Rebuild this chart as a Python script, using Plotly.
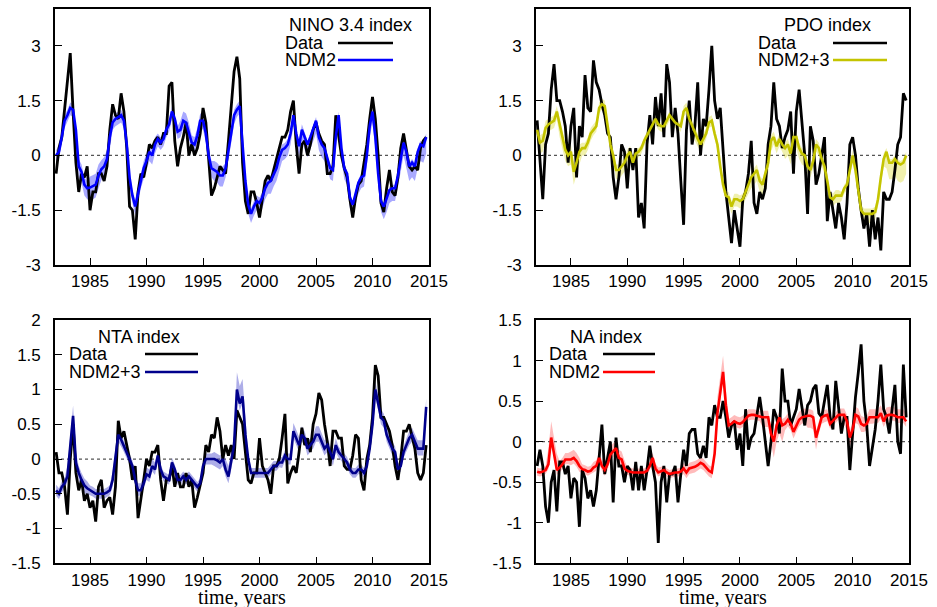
import numpy as np
import plotly.graph_objects as go

# ---------------- data (quarterly samples, starting 1982.0) ----------------
start_year = 1982.0
step = 0.25
band_years = list(range(1982, 2015))

nino_data = [
    -0.5, 0.2, 0.5, 1.3,    2.2, 2.8, 1.2, -0.2,    -1.0, -0.5, -0.6, -0.3,
    -1.5, -1.0, -1.0, -0.5, -0.5, -0.7, -0.3, 0.7,   1.4, 1.1, 1.0, 1.7,
    1.2, 0.2, -1.4, -1.5,   -2.3, -1.0, -0.5, -0.6,  -0.2, 0.3, 0.2, 0.4,
    0.5, 0.3, 0.6, 0.6,     1.9, 2.0, 0.4, -0.3,     0.2, 0.5, 0.9, 0.0,
    0.3, 0.0, 0.2, 0.6,     1.3, 0.9, -0.1, -1.1,    -0.9, -0.6, -0.3, -0.4,
    -0.5, 0.4, 1.3, 2.3,    2.7, 2.1, -0.2, -1.25,   -1.6, -1.0, -1.0, -1.3,
    -1.7, -1.2, -0.7, -0.55, -0.7, -0.4, -0.1, 0.15,  0.5, 0.5, 0.7, 1.2,
    1.5, 0.3, -0.5, 0.3,    0.4, 0.0, 0.3, 0.7,      0.9, 0.6, 0.4, 0.3,
    -0.5, -0.5, -0.3, 1.1,  0.6, 0.0, -0.35, -0.6,   -1.2, -1.7, -1.15, -0.8,
    -0.7, -0.2, 0.3, 1.0,   1.6, 1.0, 0.0, -1.3,     -1.55, -0.9, -0.4, -1.0,
    -1.1, -0.6, 0.2, 0.6,   0.1, -0.3, -0.4, -0.3,   -0.4, 0.2, 0.4, 0.5,
]
nino_model = [
    0.0, 0.1, 0.5, 0.95,    1.1, 1.3, 1.25, 0.7,     -0.3, -0.45, -0.8, -0.9,
    -0.88, -0.85, -0.8, -0.55, -0.38, -0.3, -0.1, 0.5, 0.9, 1.0, 1.05, 1.1,
    0.95, 0.3, -0.6, -1.1,  -1.4, -1.05, -0.65, -0.35, -0.15, 0.1, 0.0, 0.3,
    0.45, 0.35, 0.45, 0.7,  0.85, 1.2, 1.0, 0.65,    0.7, 0.95, 0.9, 0.65,
    0.35, 0.3, 0.55, 0.95,  0.95, 0.6, 0.0, -0.35,   -0.4, -0.45, -0.55, -0.55,
    -0.35, 0.1, 0.6, 1.1,   1.25, 1.35, 0.3, -0.7,   -1.35, -1.6, -1.4, -1.25,
    -1.3, -1.15, -0.9, -0.75, -0.7, -0.5, -0.35, -0.05, 0.15, 0.2, 0.3, 0.6,
    1.1, 0.6, 0.25, 0.7,    0.5, 0.3, 0.5, 0.75,     0.95, 0.5, 0.3, 0.2,
    -0.05, -0.35, -0.4, 0.5, 1.1, 0.2, -0.35, -0.5,  -1.15, -1.35, -1.05, -0.75,
    -0.6, -0.55, 0.0, 0.8,  1.2, 0.5, -0.5, -1.25,   -1.4, -1.2, -0.95, -0.9,
    -0.9, -0.55, -0.1, 0.35, 0.1, -0.3, -0.2, -0.3,  0.1, 0.3, 0.25, 0.5,
]
nino_band_lo = [0.2, 0.2, 0.3, 0.35, 0.3, 0.2, 0.2, 0.25, 0.25, 0.2, 0.2, 0.2, 0.2, 0.25, 0.3, 0.25, 0.2,
                0.25, 0.3, 0.35, 0.3, 0.3, 0.35, 0.35, 0.3, 0.3, 0.3, 0.3, 0.3, 0.35, 0.35, 0.4, 0.45]
nino_band_hi = [0.15, 0.15, 0.2, 0.3, 0.25, 0.15, 0.15, 0.2, 0.2, 0.15, 0.15, 0.25, 0.2, 0.2, 0.25, 0.15, 0.15,
                0.15, 0.15, 0.15, 0.15, 0.15, 0.1, 0.1, 0.1, 0.1, 0.1, 0.1, 0.1, 0.1, 0.1, 0.1, 0.1]

pdo_data = [
    0.96, 0.0, -1.2, 0.3,   0.6, 1.8, 2.5, 1.5,      1.5, 1.2, 0.8, -0.2,
    0.8, 1.3, -0.6, 0.8,    0.5, 2.2, 1.3, 1.2,      2.6, 2.0, 1.8, 1.4,
    1.1, 0.6, 0.5, -0.6,    -1.2, -0.6, 0.3, 0.1,    -0.9, 0.2, -0.4, 0.2,
    -1.7, -1.3, -2.0, 0.3,  1.1, 0.3, 1.6, 0.8,      1.7, 0.5, 2.5, 2.0,
    0.5, 1.3, 0.6, -0.7,    -1.9, 0.7, 1.5, 0.3,     0.8, 2.0, 0.0, 1.0,
    0.8, 1.8, 3.0, 1.5,     1.0, 1.3, 0.2, -1.0,     -1.7, -2.4, -1.5, -2.0,
    -2.5, -1.2, -1.0, -0.5, 0.4, -1.3, -1.6, -1.0,   -1.2, -0.9, 0.3, 0.8,
    2.0, 1.0, 0.8, 0.2,     0.5, 0.7, 1.2, -0.5,     1.2, 1.8, 1.0, 0.0,
    -1.6, 0.8, 0.4, -0.8,   -0.5, 0.0, 0.5, -1.8,    -1.0, -1.5, -2.0, -1.3,
    -1.7, -2.3, -1.3, 0.3,  0.5, 0.0, -0.9, -1.5,    -2.0, -1.6, -2.5, -1.5,
    -2.3, -1.7, -2.6, -1.0, -1.2, -1.2, -1.0, -0.4,  0.3, 0.5, 1.7, 1.5,
]
pdo_model = [
    0.7, 0.35, 0.4, 0.75,   0.85, 0.9, 0.95, 1.2,    0.8, 0.5, 0.15, 0.0,
    0.1, -0.45, -0.2, 0.1,  0.2, 0.2, 0.35, 0.6,     0.7, 0.8, 1.3, 1.4,
    1.35, 0.8, 0.3, 0.0,    -0.4, -0.4, -0.3, -0.2,  0.0, 0.1, -0.2, 0.05,
    0.1, 0.2, 0.4, 0.55,    0.7, 0.85, 1.0, 0.85,    0.8, 0.8, 0.95, 1.1,
    1.0, 0.9, 0.85, 0.8,    1.2, 1.3, 1.0, 0.8,      0.6, 0.45, 0.3, 0.45,
    0.6, 0.9, 0.95, 0.6,    0.3, -0.3, -0.8, -1.1,   -1.15, -1.4, -1.2, -1.2,
    -1.25, -1.2, -1.0, -0.85, -0.6, -0.5, -0.4, -0.7, -0.8, -0.5, -0.2, 0.4,
    0.5, 0.25, 0.45, 0.3,   0.2, 0.3, 0.05, 0.5,     0.5, 0.2, 0.05, 0.0,
    -0.3, -0.4, -0.15, 0.3, 0.2, -0.1, -0.3, -0.7,   -1.15, -1.2, -1.1, -1.1,
    -1.1, -0.9, -0.8, -0.4, 0.0, -0.4, -0.9, -1.5,   -1.6, -1.6, -1.6, -1.6,
    -1.55, -1.2, -0.6, -0.1, 0.1, -0.2, -0.2, -0.1,  -0.2, -0.25, -0.2, 0.0,
]
pdo_band_lo = [0.3, 0.2, 0.3, 0.35, 0.2, 0.15, 0.15, 0.25, 0.2, 0.15, 0.15, 0.15, 0.15, 0.15, 0.2, 0.15, 0.15,
               0.2, 0.2, 0.3, 0.3, 0.2, 0.3, 0.3, 0.2, 0.2, 0.2, 0.15, 0.2, 0.25, 0.2, 0.45, 0.5]
pdo_band_hi = [0.2, 0.15, 0.15, 0.2, 0.15, 0.15, 0.15, 0.15, 0.15, 0.1, 0.1, 0.1, 0.1, 0.15, 0.15, 0.15, 0.15,
               0.15, 0.15, 0.15, 0.15, 0.15, 0.15, 0.15, 0.15, 0.15, 0.15, 0.1, 0.15, 0.15, 0.15, 0.1, 0.1]

nta_data = [
    0.1, -0.2, -0.2, -0.4,  -0.8, 0.0, 0.5, -0.2,    -0.45, -0.3, -0.6, -0.5,
    -0.7, -0.6, -0.9, -0.4, -0.3, -0.7, -0.6, -0.55, -0.8, -0.4, 0.55, 0.3,
    0.4, 0.2, 0.0, -0.3,    -0.1, -0.85, -0.6, -0.3, 0.0, -0.1, 0.1, 0.1,
    0.2, -0.3, -0.6, -0.3,  -0.3, -0.1, -0.4, -0.2,  -0.4, -0.4, -0.2, -0.4,
    -0.3, -0.7, -0.55, -0.35, -0.2, 0.2, 0.1, 0.35,  0.3, 0.6, 0.4, 0.0,
    0.2, 0.05, 0.2, 0.0,    0.7, 0.6, 0.5, 0.1,      -0.3, -0.35, -0.2, -0.2,
    0.3, -0.1, -0.2, -0.3,  -0.5, -0.1, -0.1, 0.0,   0.3, 0.65, -0.35, -0.2,
    -0.1, -0.2, 0.1, 0.45,  0.2, 0.3, 0.1, 0.5,      0.65, 0.95, 0.85, 0.5,
    0.25, -0.1, 0.4, 0.4,   0.3, 0.3, -0.1, -0.15,   -0.15, 0.05, 0.35, 0.3,
    -0.3, -0.45, 0.0, 0.2,  0.6, 1.35, 1.2, 0.6,     0.6, 0.5, 0.4, 0.2,
    -0.1, -0.3, 0.0, 0.4,   0.4, 0.5, 0.3, 0.15,     -0.2, -0.3, -0.2, 0.2,
]
nta_model = [
    -0.45, -0.5, -0.4, -0.35, -0.25, 0.2, 0.62, -0.05, -0.2, -0.3, -0.38, -0.42,
    -0.45, -0.47, -0.5, -0.5, -0.5, -0.5, -0.48, -0.45, -0.3, 0.0, 0.35, 0.28,
    0.18, 0.1, 0.0, -0.1,   -0.3, -0.45, -0.45, -0.35, -0.22, -0.25, -0.1, -0.15,
    0.05, -0.15, -0.25, -0.28, -0.3, -0.05, -0.15, -0.3, -0.3, -0.25, -0.3, -0.25,
    -0.3, -0.35, -0.4, -0.35, -0.1, 0.0, 0.0, 0.0,   0.0, -0.02, -0.05, 0.0,
    -0.15, -0.25, -0.05, 0.2, 1.0, 0.8, 0.9, 0.35,   0.0, -0.2, -0.2, -0.2,
    -0.2, -0.2, -0.2, -0.2, -0.15, -0.1, -0.1, -0.05, -0.05, 0.05, 0.0, 0.0,
    0.4, 0.3, 0.2, 0.35,    0.3, 0.15, 0.2, 0.25,    0.35, 0.35, 0.25, 0.15,
    0.2, 0.1, 0.0, 0.2,     0.1, 0.05, 0.0, -0.05,   -0.15, -0.2, -0.2, -0.15,
    -0.15, -0.2, -0.1, 0.15, 0.5, 1.0, 0.8, 0.6,     0.55, 0.35, 0.25, 0.15,
    0.1, -0.15, -0.1, 0.1,  0.2, 0.3, 0.35, 0.25,    0.15, 0.15, 0.15, 0.75,
]
nta_band_lo = [0.08, 0.08, 0.1, 0.07, 0.07, 0.1, 0.08, 0.08, 0.08, 0.07, 0.07, 0.07, 0.07, 0.08, 0.1, 0.1, 0.1,
               0.07, 0.07, 0.07, 0.08, 0.1, 0.1, 0.1, 0.1, 0.08, 0.07, 0.07, 0.1, 0.1, 0.08, 0.1, 0.1]
nta_band_hi = [0.08, 0.15, 0.1, 0.07, 0.07, 0.12, 0.08, 0.1, 0.1, 0.07, 0.07, 0.07, 0.07, 0.08, 0.1, 0.15, 0.25,
               0.07, 0.07, 0.07, 0.08, 0.12, 0.1, 0.12, 0.1, 0.08, 0.07, 0.07, 0.12, 0.1, 0.08, 0.1, 0.12]

na_data = [
    -0.3, -0.1, -0.3, -0.8, -1.0, -0.5, -0.35, -0.86, -0.25, -0.25, -0.4, -0.3,
    -0.7, -0.45, -0.5, -1.05, -0.35, -0.45, -0.7, -0.6, -0.8, -0.6, -0.2, 0.21,
    -0.4, -0.2, 0.0, -0.75, 0.05, -0.3, -0.3, -0.5,  -0.3, -0.35, -0.6, -0.25,
    -0.6, -0.3, -0.6, -0.35, -0.05, -0.3, -0.5, -1.25, -0.5, -0.3, -0.75, -0.4,
    -0.4, -0.3, -0.75, -0.4, -0.1, -0.3, 0.1, 0.15,  0.15, -0.15, -0.2, -0.05,
    -0.2, 0.3, 0.2, 0.45,   0.3, 0.3, 0.5, 0.3,      0.05, 0.2, 0.25, -0.1,
    0.1, -0.3, 0.4, -0.1,   0.05, 0.1, 0.35, 0.55,   0.3, 0.0, -0.3, 0.0,
    0.4, 0.3, 0.1, 0.9,     0.5, 0.5, 0.2, 0.3,      0.4, 0.65, 0.45, 0.2,
    0.45, 0.5, 0.65, 0.7,   0.35, 0.3, 0.5, 0.7,     0.3, 0.15, 0.75, 0.4,
    0.1, 0.3, 0.3, -0.35,   0.1, 0.55, 0.85, 1.2,    0.5, 0.2, -0.3, -0.05,
    0.15, 0.5, 0.95, 0.4,   0.3, 0.1, 0.4, 0.7,      0.0, -0.15, 0.95, 0.3,
]
na_model = [
    -0.37, -0.38, -0.37, -0.35, -0.28, 0.05, -0.15, -0.35, -0.32, -0.28, -0.22, -0.22,
    -0.22, -0.2, -0.24, -0.3, -0.34, -0.35, -0.37, -0.36, -0.32, -0.3, -0.2, -0.3,
    -0.35, -0.28, -0.16, -0.12, -0.08, -0.2, -0.22, -0.33, -0.36, -0.37, -0.38, -0.38,
    -0.38, -0.38, -0.38, -0.36, -0.3, -0.2, -0.33, -0.38, -0.36, -0.35, -0.38, -0.4,
    -0.39, -0.38, -0.38, -0.37, -0.33, -0.38, -0.33, -0.32, -0.31, -0.29, -0.26, -0.28,
    -0.32, -0.36, -0.38, -0.15, 0.35, 0.6, 0.86, 0.45, 0.2, 0.22, 0.25, 0.23,
    0.22, 0.24, 0.28, 0.32, 0.33, 0.33, 0.32, 0.31,  0.3, 0.3, 0.3, 0.1,
    0.0, 0.2, 0.3, 0.2,     0.22, 0.27, 0.22, 0.12,  0.2, 0.27, 0.3, 0.31,
    0.32, 0.32, 0.3, 0.05,  0.18, 0.3, 0.32, 0.33,   0.22, 0.26, 0.3, 0.33,
    0.33, 0.33, 0.25, 0.05, 0.15, 0.33, 0.31, 0.22,  0.2, 0.22, 0.3, 0.3,
    0.3, 0.3, 0.35, 0.25,   0.32, 0.33, 0.33, 0.32,  0.3, 0.3, 0.3, 0.25,
]
na_band_lo = [0.05, 0.06, 0.06, 0.07, 0.05, 0.06, 0.07, 0.07, 0.05, 0.05, 0.05, 0.05, 0.05, 0.07, 0.07, 0.07, 0.1,
              0.06, 0.06, 0.06, 0.12, 0.2, 0.08, 0.08, 0.15, 0.08, 0.06, 0.12, 0.1, 0.08, 0.07, 0.07, 0.07]
na_band_hi = [0.05, 0.2, 0.08, 0.1, 0.06, 0.07, 0.1, 0.1, 0.05, 0.05, 0.06, 0.05, 0.05, 0.07, 0.07, 0.07, 0.2,
              0.08, 0.08, 0.07, 0.08, 0.08, 0.08, 0.1, 0.08, 0.07, 0.07, 0.08, 0.1, 0.1, 0.1, 0.1, 0.1]

x_tick_vals = [1985, 1990, 1995, 2000, 2005, 2010, 2015]
x_tick_text = ["1985", "1990", "1995", "2000", "2005", "2010", "2015"]
y_ticks_top = [-3, -1.5, 0, 1.5, 3]
y_ticks_top_text = ["-3", "-1.5", "0", "1.5", "3"]
y_ticks_nta = [-1.5, -1, -0.5, 0, 0.5, 1, 1.5, 2]
y_ticks_nta_text = ["-1.5", "-1", "-0.5", "0", "0.5", "1", "1.5", "2"]
y_ticks_na = [-1.5, -1, -0.5, 0, 0.5, 1, 1.5]
y_ticks_na_text = ["-1.5", "-1", "-0.5", "0", "0.5", "1", "1.5"]

# ---------------- figure ----------------
W, H = 937, 607
SANS = "Liberation Sans, Arial, sans-serif"
SERIF = "Liberation Serif, Times New Roman, serif"


def fx(p):
    return p / W


def fy(p):
    return 1 - p / H


panels = [
    dict(data=nino_data, model=nino_model, lo=nino_band_lo, hi=nino_band_hi,
         color="#0000ff", fill="rgba(40,40,255,0.40)", title="NINO 3.4 index", mlabel="NDM2",
         xd=(55, 429), yd=(9.3, 265), yr=(-3, 4), yt=(y_ticks_top, y_ticks_top_text),
         leg=dict(title_cx=350, title_y=25, text_x=283, y1=43, y2=60, lx0=338, lx1=393)),
    dict(data=pdo_data, model=pdo_model, lo=pdo_band_lo, hi=pdo_band_hi,
         color="#c4c400", fill="rgba(215,215,40,0.38)", title="PDO index", mlabel="NDM2+3",
         xd=(536, 909), yd=(9.3, 265), yr=(-3, 4), yt=(y_ticks_top, y_ticks_top_text),
         leg=dict(title_cx=827, title_y=25, text_x=756, y1=43, y2=60, lx0=833, lx1=887)),
    dict(data=nta_data, model=nta_model, lo=nta_band_lo, hi=nta_band_hi,
         color="#00008c", fill="rgba(60,60,200,0.42)", title="NTA index", mlabel="NDM2+3",
         xd=(55, 429), yd=(320, 563.3), yr=(-1.5, 2), yt=(y_ticks_nta, y_ticks_nta_text),
         leg=dict(title_cx=139, title_y=337, text_x=67, y1=354, y2=372, lx0=145, lx1=198)),
    dict(data=na_data, model=na_model, lo=na_band_lo, hi=na_band_hi,
         color="#ff0000", fill="rgba(255,60,60,0.35)", title="NA index", mlabel="NDM2",
         xd=(536, 909), yd=(320, 563.3), yr=(-1.5, 1.5), yt=(y_ticks_na, y_ticks_na_text),
         leg=dict(title_cx=606, title_y=337, text_x=547, y1=354, y2=372, lx0=603, lx1=655)),
]

fig = go.Figure()
layout = dict(
    width=W, height=H, autosize=False, margin=dict(l=0, r=0, t=0, b=0, pad=0),
    paper_bgcolor="white", plot_bgcolor="white", showlegend=False,
    font=dict(family=SANS, size=17, color="black"),
)
annotations = []
shapes = []

for k, p in enumerate(panels, start=1):
    n = len(p["data"])
    t = start_year + step * np.arange(n)
    model = np.array(p["model"], dtype=float)
    lo = np.repeat(np.array(p["lo"], dtype=float), 4)[:n]
    hi = np.repeat(np.array(p["hi"], dtype=float), 4)[:n]
    xa = "x" if k == 1 else f"x{k}"
    ya = "y" if k == 1 else f"y{k}"

    # uncertainty band
    fig.add_trace(go.Scatter(
        x=np.concatenate([t, t[::-1]]),
        y=np.concatenate([model + hi, (model - lo)[::-1]]),
        fill="toself", fillcolor=p["fill"], line=dict(width=0),
        mode="lines", hoverinfo="skip", xaxis=xa, yaxis=ya))
    # observed data
    fig.add_trace(go.Scatter(x=t, y=p["data"], mode="lines",
                             line=dict(color="black", width=2.8),
                             xaxis=xa, yaxis=ya))
    # model
    fig.add_trace(go.Scatter(x=t, y=model, mode="lines",
                             line=dict(color=p["color"], width=2.6),
                             xaxis=xa, yaxis=ya))

    axis_common = dict(showline=True, linecolor="black", linewidth=1.6, mirror=True,
                       ticks="inside", ticklen=7, tickwidth=1.4, tickcolor="black",
                       showgrid=False, zeroline=False, automargin=False,
                       tickfont=dict(family=SANS, size=17, color="black"))
    layout["xaxis" if k == 1 else f"xaxis{k}"] = dict(
        domain=[fx(p["xd"][0]), fx(p["xd"][1])], range=[1981.9, 2015.0],
        tickmode="array", tickvals=x_tick_vals, ticktext=x_tick_text,
        anchor=ya, ticklabelstandoff=0, **axis_common)
    layout["yaxis" if k == 1 else f"yaxis{k}"] = dict(
        domain=[fy(p["yd"][1]), fy(p["yd"][0])], range=list(p["yr"]),
        tickmode="array", tickvals=p["yt"][0], ticktext=p["yt"][1],
        anchor=xa, ticklabelstandoff=9, **axis_common)

    # dotted zero line
    shapes.append(dict(type="line", xref=f"{xa} domain", yref=ya, x0=0, x1=1, y0=0, y1=0,
                       line=dict(color="#555555", width=1.2, dash="dot"), layer="below"))

    # legend (gnuplot style: text left, sample line right)
    L = p["leg"]
    annotations.append(dict(text=p["title"], xref="paper", yref="paper",
                            x=fx(L["title_cx"]), y=fy(L["title_y"]), xanchor="center", yanchor="middle",
                            showarrow=False, font=dict(family=SANS, size=18, color="black")))
    for label, yy, col in (("Data", L["y1"], "black"), (p["mlabel"], L["y2"], p["color"])):
        annotations.append(dict(text=label, xref="paper", yref="paper",
                                x=fx(L["text_x"]), y=fy(yy), xanchor="left", yanchor="middle",
                                showarrow=False, font=dict(family=SANS, size=18, color="black")))
        shapes.append(dict(type="line", xref="paper", yref="paper",
                           x0=fx(L["lx0"]), x1=fx(L["lx1"]), y0=fy(yy), y1=fy(yy),
                           line=dict(color=col, width=2.6)))

# x-axis titles on the bottom row
for cx in (242, 722.5):
    annotations.append(dict(text="time, years", xref="paper", yref="paper",
                            x=fx(cx), y=fy(597), xanchor="center", yanchor="middle",
                            showarrow=False, font=dict(family=SERIF, size=20, color="black")))

layout["annotations"] = annotations
layout["shapes"] = shapes
fig.update_layout(**layout)
fig.write_html(
    "out.html",
    config={"responsive": False, "displayModeBar": False},
    post_script="document.body.style.margin='0px';document.body.style.overflow='hidden';",
)
